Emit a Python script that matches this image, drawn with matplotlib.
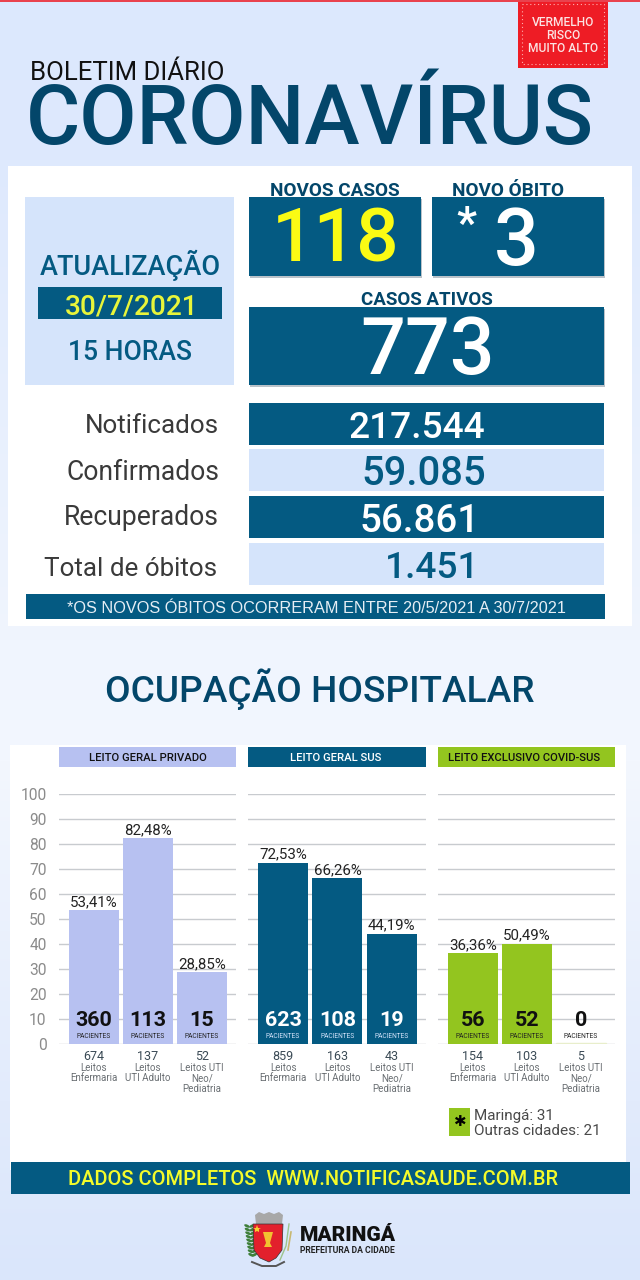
import numpy as np
import matplotlib
matplotlib.use("Agg")
import matplotlib.pyplot as plt
from matplotlib.patches import Rectangle, Polygon, Ellipse

plt.rcParams['font.family'] = ['Roboto', 'DejaVu Sans']

# summary numbers
novos_casos = "118"
novo_obito = "3"
casos_ativos = "773"
data_boletim = "30/7/2021"
hora_boletim = "15 HORAS"
row_labels = ["Notificados", "Confirmados", "Recuperados", "Total de óbitos"]
row_values = ["217.544", "59.085", "56.861", "1.451"]

# hospital occupation
panel_titles = ["LEITO GERAL PRIVADO", "LEITO GERAL SUS", "LEITO EXCLUSIVO COVID-SUS"]
bed_types = ["Leitos\nEnfermaria", "Leitos\nUTI Adulto", "Leitos UTI\nNeo/\nPediatria"]
privado_pct = [53.41, 82.48, 28.85]
sus_pct = [72.53, 66.26, 44.19]
covid_pct = [36.36, 50.49, 0]
# the covid bars are drawn lower than their labels in the picture
covid_altura = [36.36, 40.2, 0.6]
privado_pac = [360, 113, 15]
sus_pac = [623, 108, 19]
covid_pac = [56, 52, 0]
privado_leitos = [674, 137, 52]
sus_leitos = [859, 163, 43]
covid_leitos = [154, 103, 5]
yticks = [0, 10, 20, 30, 40, 50, 60, 70, 80, 90, 100]

BLUE = '#045a82'
DARK = '#03466a'
LIGHT = '#d5e4fb'
LILAC = '#b7c1f1'
GREEN = '#93c51f'
YELLOW = '#f4fb2a'

W, H = 640, 1280
fig = plt.figure(figsize=(W/100, H/100), dpi=100)
bg = fig.add_axes([0, 0, 1, 1])
bg.set_xlim(0, W)
bg.set_ylim(H, 0)
bg.axis('off')


def px(size):
    # font size given in image pixels
    return size*0.72


def box(x0, y0, x1, y1, color, shadow=False, z=2):
    if shadow:
        bg.add_patch(Rectangle((x0+1, y0+2), x1-x0, y1-y0, color='#8c9aa5', alpha=0.6, lw=0, zorder=z-0.5))
    bg.add_patch(Rectangle((x0, y0), x1-x0, y1-y0, color=color, lw=0, zorder=z))


def label(x, y, s, size, color='k', weight='normal', ha='center', **kw):
    # y is the middle of the capitals
    bg.text(x, y+0.355*size, s, fontsize=px(size), color=color, fontweight=weight, ha=ha, va='baseline', zorder=5, **kw)


# background gradient
stops_y = [0, 160, 640, 760, 1100, 1280]
stops_c = np.array([[220, 232, 253], [222, 233, 253], [240, 245, 254], [243, 247, 254], [226, 235, 252], [218, 230, 251]])/255
grad = np.stack([np.interp(np.arange(H), stops_y, stops_c[:, i]) for i in range(3)], axis=1)[:, None, :]
bg.imshow(grad, extent=(0, W, H, 0), aspect='auto', zorder=0)
bg.set_xlim(0, W)
bg.set_ylim(H, 0)

box(0, 0, 640, 2, '#e9424e')

# risk tag
box(518, 2, 608, 68, '#ee1c25', z=2)
bg.add_patch(Rectangle((522, 4), 82, 60, fill=False, ec='#ffb0b0', lw=0.8, ls=(0, (1, 2.5)), zorder=3))
for yy, s in zip([21.5, 34.5, 47.5], ["VERMELHO", "RISCO", "MUITO ALTO"]):
    label(563, yy, s, 12, '#fbe3e3', 'medium')

# title
label(30, 71, "BOLETIM DIÁRIO", 25.7, '#111111', ha='left')
label(26, 114.5, "CORONAVÍRUS", 83, DARK, 'medium', ha='left')

# white panels
box(8, 166, 632, 626, 'white', z=1)
box(10, 745, 626, 1170, 'white', z=1)

# left date box
box(25, 197, 234, 385, LIGHT)
label(130, 265, "ATUALIZAÇÃO", 27, BLUE, 'medium')
box(38, 287, 222, 319, BLUE)
label(131.5, 305, data_boletim, 28, '#e8f53a', 'medium')
label(130, 351, hora_boletim, 26.5, BLUE, 'medium')

# headline boxes
label(335, 189, "NOVOS CASOS", 19, DARK, 'bold')
label(508, 189, "NOVO ÓBITO", 19, DARK, 'bold')
label(427, 298, "CASOS ATIVOS", 18.8, DARK, 'bold')
box(249, 197, 421, 276, BLUE, True)
box(432, 197, 604, 276, BLUE, True)
box(249, 307, 604, 385, BLUE, True)
label(336, 235, novos_casos, 75, '#fbfb14', 'medium')
label(466, 222, "*", 44, 'white', 'bold')
label(516, 237, novo_obito, 79, 'white', 'medium')
label(428, 346, casos_ativos, 79, 'white', 'medium')

# rows
row_top = [403, 449, 496, 543]
row_lab_y = [424, 471, 516, 567]
row_lab_x = [219, 219, 219, 217]
row_lab_size = [26, 26.5, 26.5, 26]
row_val_x = [417, 424, 420, 432]
row_val_y = [425, 471, 518, 565]
row_val_size = [37, 40, 38.5, 37]
for i in range(4):
    dark = i % 2 == 0
    box(249, row_top[i], 604, row_top[i]+42, BLUE if dark else LIGHT)
    label(row_val_x[i], row_val_y[i], row_values[i], row_val_size[i], 'white' if dark else BLUE, 'medium')
    label(row_lab_x[i], row_lab_y[i], row_labels[i], row_lab_size[i], '#3a3a3a', ha='right')

box(26, 594, 605, 619, BLUE)
label(316, 607, "*OS NOVOS ÓBITOS OCORRERAM ENTRE 20/5/2021 A 30/7/2021", 16.3, '#e6eef5',
      family=['Liberation Sans', 'DejaVu Sans'])

label(320, 689, "OCUPAÇÃO HOSPITALAR", 37, DARK, 'medium')

# footer
box(11, 1162, 630, 1194, BLUE)
label(313, 1178, "DADOS COMPLETOS  WWW.NOTIFICASAUDE.COM.BR", 20, YELLOW, 'medium')

# note next to the covid panel
box(449, 1108, 470, 1136, GREEN)
label(459.5, 1121, "✱", 15, 'k', family=['DejaVu Sans'])
label(474, 1115, "Maringá: 31", 15.2, '#4a4a4a', ha='left')
label(474, 1130, "Outras cidades: 21", 15.2, '#4a4a4a', ha='left')

# city crest
for k in range(9):
    yy = 1226+k*3.6
    bg.add_patch(Ellipse((247+k*0.5, yy), 6, 2.8, angle=25, color='#3f7f3a', lw=0, zorder=3))
    bg.add_patch(Ellipse((252+k*0.3, yy), 6, 2.8, angle=-25, color='#3f7f3a', lw=0, zorder=3))
bg.plot([289, 286, 280], [1224, 1246, 1260], color='#9cc48c', lw=1, zorder=3)
bg.plot([291, 288], [1232, 1250], color='#c8b870', lw=1.2, zorder=3)
bg.add_patch(Polygon([(255, 1215), (259, 1212), (264, 1214), (269, 1212), (274, 1214), (279, 1212), (283, 1215), (282, 1224), (256, 1224)],
                     color='#a8a8a8', lw=0, zorder=3))
bg.add_patch(Polygon([(253, 1224), (283, 1224), (282, 1250), (276, 1258), (269, 1262), (260, 1258), (254, 1250)],
                     color='#e2202c', ec='#333333', lw=0.5, zorder=4))
bg.add_patch(Polygon([(263, 1232), (273, 1232), (270, 1243), (272, 1247), (264, 1247), (266, 1243)], color='#f2c230', lw=0, zorder=5))
bg.plot([257], [1229], marker='*', ms=6, color='#f6d030', mew=0, zorder=5)
bg.plot([252, 262, 276, 284], [1262, 1266, 1266, 1262], color='#555555', lw=1.4, zorder=3)
bg.set_xlim(0, W)
bg.set_ylim(H, 0)
label(300, 1234, "MARINGÁ", 21, '#111111', 'black', ha='left')
label(300, 1250, "PREFEITURA DA CIDADE", 8.6, '#222222', 'bold', ha='left')

# bar panels
panels = [
    (59, 236, privado_pct, privado_pct, privado_pac, privado_leitos, LILAC, '#111111', '#222222'),
    (248, 426, sus_pct, sus_pct, sus_pac, sus_leitos, BLUE, 'white', '#d5e4fb'),
    (438, 615, covid_altura, covid_pct, covid_pac, covid_leitos, GREEN, '#111111', '#222222'),
]
title_x = [147.5, 336, 524]
y_zero, y_hundred = 1044, 794
for n, (x0, x1, alturas, pct, pac, leitos, color, numc, subc) in enumerate(panels):
    box(x0, 747, x1, 767, color)
    label(title_x[n], 757, panel_titles[n], 11.3, '#111111' if n != 1 else 'white', 'medium')

    ax = fig.add_axes([x0/W, 1-y_zero/H, (x1-x0)/W, (y_zero-y_hundred)/H])
    ax.patch.set_alpha(0)
    ax.set_ylim(0, 100)
    ax.set_xlim(-0.645, 2.63)
    bars = ax.bar(range(3), alturas, width=0.92, color=color, zorder=3)
    if n == 2:
        bars[2].set_color('#e8eecb')
    ax.set_yticks(yticks)
    ax.grid(axis='y', color='#c8cbcf', lw=1)
    ax.set_axisbelow(True)
    ax.set_xticks([])
    for s in ax.spines.values():
        s.set_visible(False)
    ax.tick_params(axis='y', length=0, pad=9, labelcolor='#8b8b8b', labelsize=px(15.5))
    if n > 0:
        ax.tick_params(axis='y', labelleft=False)
    for i in range(3):
        if pct[i] > 0:
            ax.text(i, alturas[i]+0.4, f"{pct[i]:.2f}%".replace('.', ','), ha='center', va='bottom',
                    fontsize=px(15), color='#222222', zorder=5)
        c = numc if pct[i] > 0 else '#111111'
        sc = subc if pct[i] > 0 else '#222222'
        ax.text(i, 9.6, str(pac[i]), ha='center', va='center', fontsize=px(21.5), fontweight='bold', color=c, zorder=5)
        ax.text(i, 3.2, "PACIENTES", ha='center', va='center', fontsize=px(6.6), color=sc, zorder=5)
        ax.text(i, -5.0, str(leitos[i]), ha='center', va='center', fontsize=px(12.5), color='#3a4a55', clip_on=False)
        ax.text(i, -7.6, bed_types[i], ha='center', va='top', fontsize=px(9.8), color='#6a6f73',
                linespacing=1.05, clip_on=False)

fig.savefig('out.png', dpi=100)
